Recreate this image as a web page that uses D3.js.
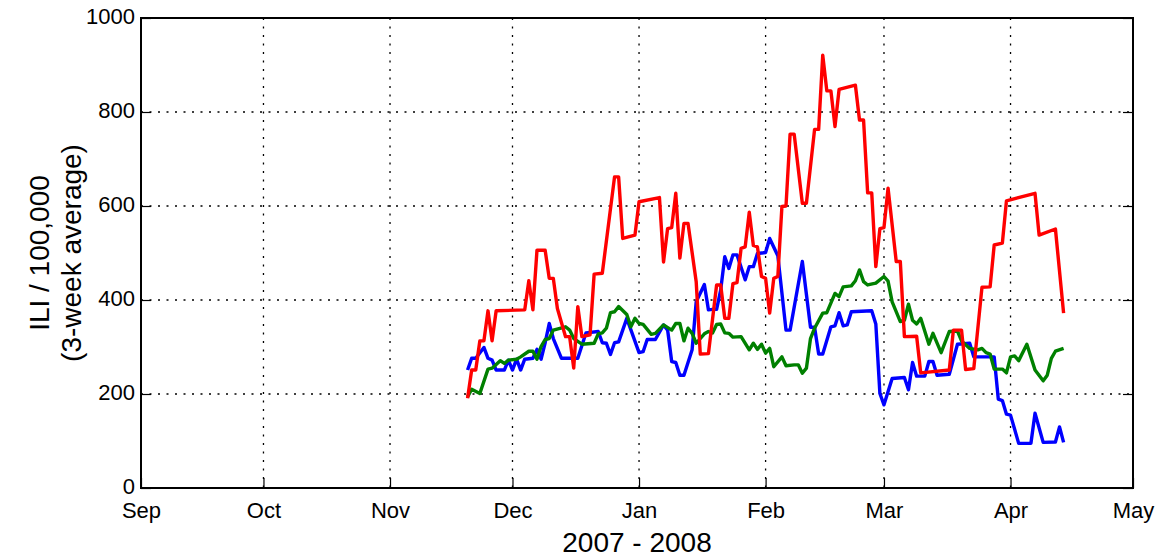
<!DOCTYPE html>
<html>
  <head>
    <script src="https://d3js.org/d3.v7.min.js"></script>
    <style>
      body { margin: 0; background: #fff; }
      svg { display: block; font-family: "Liberation Sans", Arial, sans-serif; }
    </style>
  </head>
  <body>
    <svg width="1156" height="559"></svg>
  </body>
  <script>
    // [days since 1 Sep 2007, ILI per 100,000]
    const redSeries = [
      [80,191],[81,251],[82,251],[83,313],[84,313],[85,377],[86,313],[87,377],[94,379],[95,441],
      [96,379],[97,506],[99,506],[100,446],[101,446],[102,382],[104,322],[105,322],[106,255],[107,386],
      [108,322],[110,326],[111,455],[113,457],[116,662],[117,662],[118,531],[121,538],[122,609],[127,618],
      [128,481],[129,552],[130,554],[131,627],[132,489],[133,563],[134,563],[136,439],[137,285],[139,286],
      [141,432],[142,432],[143,361],[144,361],[145,435],[146,437],[147,510],[148,513],[149,587],[150,516],
      [151,513],[152,450],[153,446],[154,372],[155,446],[156,450],[157,599],[158,600],[159,753],[160,753],
      [162,606],[163,606],[165,763],[166,763],[167,921],[168,845],[169,845],[170,769],[171,848],[175,857],
      [176,783],[177,783],[178,628],[179,628],[180,471],[181,552],[182,554],[183,638],[185,482],[186,482],
      [187,322],[190,323],[191,245],[198,251],[199,336],[201,336],[202,252],[204,254],[206,427],[208,428],
      [209,517],[211,521],[212,611],[219,627],[220,538],[224,551],[226,372]
    ];
    const blueSeries = [
      [80,251],[81,276],[82,276],[84,299],[85,276],[86,272],[87,251],[89,251],[90,272],[91,251],
      [92,274],[93,251],[94,274],[96,276],[97,295],[98,274],[99,309],[100,350],[101,318],[103,276],
      [105,276],[107,276],[109,330],[112,333],[113,309],[114,308],[115,284],[116,309],[117,311],[119,361],
      [122,288],[123,290],[124,316],[126,316],[128,347],[129,336],[130,269],[131,267],[132,240],[133,240],
      [135,294],[136,396],[138,433],[139,379],[140,380],[141,380],[142,421],[143,492],[144,467],[145,496],
      [146,496],[148,443],[149,471],[150,471],[151,499],[153,501],[154,531],[156,494],[158,336],[159,336],
      [162,482],[164,342],[165,342],[166,285],[167,285],[169,343],[170,345],[171,373],[172,345],[173,347],
      [174,375],[179,377],[180,349],[181,201],[182,177],[184,233],[187,235],[188,209],[189,267],[190,238],
      [192,238],[193,269],[194,269],[195,240],[198,242],[200,306],[203,308],[204,279],[209,279],[210,189],
      [211,186],[212,157],[213,155],[215,95],[218,95],[219,159],[221,97],[224,98],[225,130],[226,97]
    ];
    const greenSeries = [
      [80,194],[81,210],[83,201],[85,253],[86,255],[88,271],[89,265],[90,272],[92,274],[93,279],
      [95,291],[96,291],[97,274],[98,301],[99,316],[100,318],[101,336],[104,343],[105,336],[106,318],
      [108,306],[111,308],[112,328],[113,330],[114,340],[115,373],[116,375],[117,386],[119,369],[120,343],
      [121,361],[122,350],[123,348],[125,327],[126,329],[128,347],[130,336],[131,350],[132,350],[133,313],
      [134,340],[135,329],[136,308],[138,328],[139,333],[140,330],[141,348],[142,349],[143,330],[144,329],
      [145,321],[147,322],[149,294],[150,308],[151,295],[152,306],[153,287],[154,297],[155,258],[157,279],
      [158,260],[160,262],[161,262],[162,244],[163,255],[164,318],[165,340],[167,372],[168,373],[170,414],
      [171,407],[172,428],[174,430],[175,441],[176,464],[177,439],[178,432],[180,436],[182,450],[183,440],
      [184,396],[186,354],[187,357],[188,391],[189,357],[190,349],[191,361],[193,306],[194,329],[196,288],
      [198,333],[200,334],[201,313],[203,297],[205,294],[206,297],[207,288],[208,285],[209,253],[211,253],
      [212,245],[213,279],[214,281],[215,271],[217,306],[219,251],[221,228],[222,240],[223,276],[224,291],
      [226,297]
    ];
    const yTicks = [0, 200, 400, 600, 800, 1000];

    const svg = d3.select('svg');
    const margin = { top: 18, right: 23, bottom: 71, left: 141 };
    const width = 1156 - margin.left - margin.right;
    const height = 559 - margin.top - margin.bottom;

    const start = new Date(2007, 8, 1);
    const end = new Date(2008, 4, 1);
    const xScale = d3.scaleTime().domain([start, end]).range([0, width]);
    const yScale = d3.scaleLinear().domain([0, 1000]).range([height, 0]);
    const months = d3.timeMonth.range(start, d3.timeDay.offset(end, 1));

    const g = svg.append('g')
      .attr('transform', `translate(${margin.left},${margin.top})`);

    // dotted grid
    g.selectAll('.vgrid').data(months.slice(1, -1))
      .enter().append('line')
        .attr('x1', d => xScale(d)).attr('x2', d => xScale(d))
        .attr('y1', 0).attr('y2', height)
        .attr('stroke', '#000').attr('stroke-width', 1.3)
        .attr('stroke-dasharray', '2,6.5');
    g.selectAll('.hgrid').data(yTicks.slice(1, -1))
      .enter().append('line')
        .attr('x1', 0).attr('x2', width)
        .attr('y1', d => yScale(d)).attr('y2', d => yScale(d))
        .attr('stroke', '#000').attr('stroke-width', 1.3)
        .attr('stroke-dasharray', '2,6.5');

    const line = d3.line()
      .x(d => xScale(d3.timeDay.offset(start, d[0])))
      .y(d => yScale(d[1]));

    [[blueSeries, '#0000ff'], [greenSeries, '#008000'], [redSeries, '#ff0000']].forEach(([data, color]) => {
      g.append('path')
        .datum(data)
        .attr('d', line)
        .attr('fill', 'none')
        .attr('stroke', color)
        .attr('stroke-width', 3.4)
        .attr('stroke-linejoin', 'round');
    });

    // axes (ticks inside)
    const xAxis = d3.axisBottom(xScale)
      .tickValues(months)
      .tickFormat(d3.timeFormat('%b'))
      .tickSizeInner(-10).tickSizeOuter(0).tickPadding(14);
    const xAxisG = g.append('g').attr('transform', `translate(0,${height})`).call(xAxis);

    const yAxis = d3.axisLeft(yScale)
      .tickValues(yTicks).tickFormat(d3.format('d'))
      .tickSizeInner(-10).tickSizeOuter(0).tickPadding(6);
    const yAxisG = g.append('g').call(yAxis);

    const yAxisR = d3.axisRight(yScale)
      .tickValues(yTicks).tickFormat('')
      .tickSizeInner(-10).tickSizeOuter(0);
    const yAxisRG = g.append('g').attr('transform', `translate(${width},0)`).call(yAxisR);

    [xAxisG, yAxisG, yAxisRG].forEach(a => {
      a.select('.domain').remove();
      a.selectAll('.tick line').attr('stroke', '#000').attr('stroke-width', 1.2);
      a.selectAll('.tick text').attr('fill', '#000').style('font-size', '22px')
        .style('font-family', '"Liberation Sans", Arial, sans-serif');
    });
    yAxisG.selectAll('.tick text').attr('dy', '0.26em');

    g.append('rect')
      .attr('width', width).attr('height', height)
      .attr('fill', 'none').attr('stroke', '#000').attr('stroke-width', 2);

    svg.append('text')
      .attr('text-anchor', 'middle')
      .attr('x', margin.left + width / 2)
      .attr('y', 552)
      .style('font-size', '28px')
      .text('2007 - 2008');

    const yl = svg.append('text')
      .attr('text-anchor', 'middle')
      .attr('transform', `translate(0,${margin.top + height / 2}) rotate(-90)`)
      .style('font-size', '28px');
    yl.append('tspan').attr('x', 0).attr('y', 49).text('ILI / 100,000');
    yl.append('tspan').attr('x', 0).attr('y', 81).text('(3-week average)');
  </script>
</html>
